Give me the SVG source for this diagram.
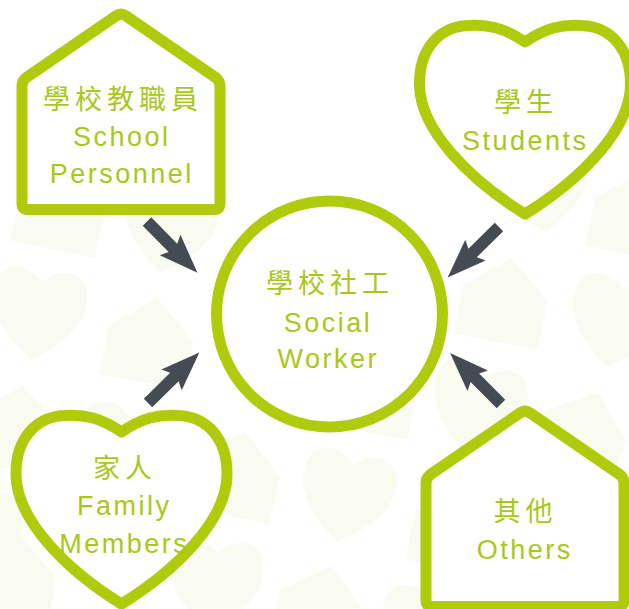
<svg xmlns="http://www.w3.org/2000/svg" xmlns:xlink="http://www.w3.org/1999/xlink" width="629" height="609" viewBox="0 0 629 609">
  <defs>
    <linearGradient id="bgFill" gradientUnits="userSpaceOnUse" x1="0" y1="150" x2="0" y2="609">
      <stop offset="0" stop-color="#f9fbf1"/>
      <stop offset="1" stop-color="#eef4d8"/>
    </linearGradient>
    <path id="smallHeart" d="M0,0 C-8,-8 -16,-12 -25,-12 C-40,-12 -47,0 -47,15 C-47,40 -25,62 0,78 C25,62 47,40 47,15 C47,0 40,-12 25,-12 C16,-12 8,-8 0,0 Z"/>
    <path id="smallHouse" d="M0,0 L43,36 L43,85 L-43,85 L-43,36 Z"/>
    <path id="heartShape" d="M0,42 C-20,28 -37,24 -57,25.5 C-87,27 -106,50 -105.5,85 C-105,130 -55,180 0,214 C55,180 105,130 105.5,85 C106,50 87,27 57,25.5 C37,24 20,28 0,42 Z"/>
    <path id="houseShape" d="M4.94,3.4 L94.06,64.6 Q99,68 99,74 L99,191 Q99,197 93,197 L-93,197 Q-99,197 -99,191 L-99,74 Q-99,68 -94.06,64.6 L-4.94,3.4 Q0,0 4.94,3.4 Z"/>
    <path id="arrowShape" d="M0,-6 L37,-6 L33,-14.5 L72,0 L33,14.5 L37,6 L0,6 Z"/>
  </defs>
  <style>
    .bg { fill: url(#bgFill); }
    .node { fill: #ffffff; stroke: #afcb0b; stroke-width: 11; stroke-linejoin: round; }
    .arrow { fill: #464a52; }
    .cjk { font-family: "Noto Sans CJK TC", "Noto Sans CJK SC", sans-serif; font-size: 27px; letter-spacing: 5px; fill: #a9c71a; text-anchor: middle; }
    .lat { font-family: "Liberation Sans", Arial, sans-serif; font-size: 27px; letter-spacing: 2.5px; fill: #a9c71a; text-anchor: middle; }
  </style>

  <rect width="629" height="609" fill="#ffffff"/>

  <g id="background" class="bg">
    <use xlink:href="#smallHouse" transform="translate(70,166) rotate(12)"/>
    <use xlink:href="#smallHouse" transform="translate(645,171) rotate(12)"/>
    <use xlink:href="#smallHeart" transform="translate(175,195) rotate(10)"/>
    <use xlink:href="#smallHeart" transform="translate(540,155) rotate(-5)"/>
    <use xlink:href="#smallHeart" transform="translate(42,282) rotate(7)"/>
    <use xlink:href="#smallHouse" transform="translate(157,298) rotate(10)"/>
    <use xlink:href="#smallHouse" transform="translate(512,258) rotate(11)"/>
    <use xlink:href="#smallHeart" transform="translate(623,290) rotate(12)"/>
    <use xlink:href="#smallHeart" transform="translate(270,328) rotate(15)"/>
    <use xlink:href="#smallHouse" transform="translate(380,348) rotate(10)"/>
    <use xlink:href="#smallHeart" transform="translate(485,377) rotate(15)"/>
    <use xlink:href="#smallHouse" transform="translate(598,392) rotate(20)"/>
    <use xlink:href="#smallHouse" transform="translate(23,385) rotate(8)"/>
    <use xlink:href="#smallHeart" transform="translate(130,418) rotate(10)"/>
    <use xlink:href="#smallHouse" transform="translate(245,432) rotate(12)"/>
    <use xlink:href="#smallHeart" transform="translate(353,465) rotate(12)"/>
    <use xlink:href="#smallHouse" transform="translate(465,485) rotate(12)"/>
    <use xlink:href="#smallHeart" transform="translate(-25,505) rotate(0)"/>
    <use xlink:href="#smallHouse" transform="translate(20,535) rotate(10)"/>
    <use xlink:href="#smallHeart" transform="translate(218,553) rotate(5)"/>
    <use xlink:href="#smallHouse" transform="translate(332,566) rotate(15)"/>
    <use xlink:href="#smallHeart" transform="translate(430,597) rotate(0)"/>
  </g>

  <g id="connectors">
    <use class="arrow" xlink:href="#arrowShape" transform="translate(147,221.5) rotate(45.5)"/>
    <use class="arrow" xlink:href="#arrowShape" transform="translate(499,227) rotate(135.5)"/>
    <use class="arrow" xlink:href="#arrowShape" transform="translate(148,403) rotate(-44.5)"/>
    <use class="arrow" xlink:href="#arrowShape" transform="translate(501,404) rotate(-135)"/>
  </g>

  <g id="school-personnel">
    <use class="node" xlink:href="#houseShape" transform="translate(121,12.5)"/>
    <text class="cjk" x="123" y="109">學校教職員</text>
    <text class="lat" x="121.75" y="146">School</text>
    <text class="lat" x="121.75" y="183">Personnel</text>
  </g>

  <g id="students">
    <use class="node" xlink:href="#heartShape" transform="translate(525,0)"/>
    <text class="cjk" x="526" y="112">學生</text>
    <text class="lat" x="525.25" y="150">Students</text>
  </g>

  <g id="social-worker">
    <circle class="node" cx="329.5" cy="314" r="113" stroke-width="10.5"/>
    <text class="cjk" x="330" y="293">學校社工</text>
    <text class="lat" x="328" y="332">Social</text>
    <text class="lat" x="328.25" y="368">Worker</text>
  </g>

  <g id="family-members">
    <use class="node" xlink:href="#heartShape" transform="translate(121.5,390)"/>
    <text class="cjk" x="125" y="478">家人</text>
    <text class="lat" x="124.25" y="515">Family</text>
    <text class="lat" x="124.25" y="553">Members</text>
  </g>

  <g id="others">
    <use class="node" xlink:href="#houseShape" transform="translate(525,409.5)"/>
    <text class="cjk" x="525.5" y="521">其他</text>
    <text class="lat" x="524.75" y="559">Others</text>
  </g>
</svg>
